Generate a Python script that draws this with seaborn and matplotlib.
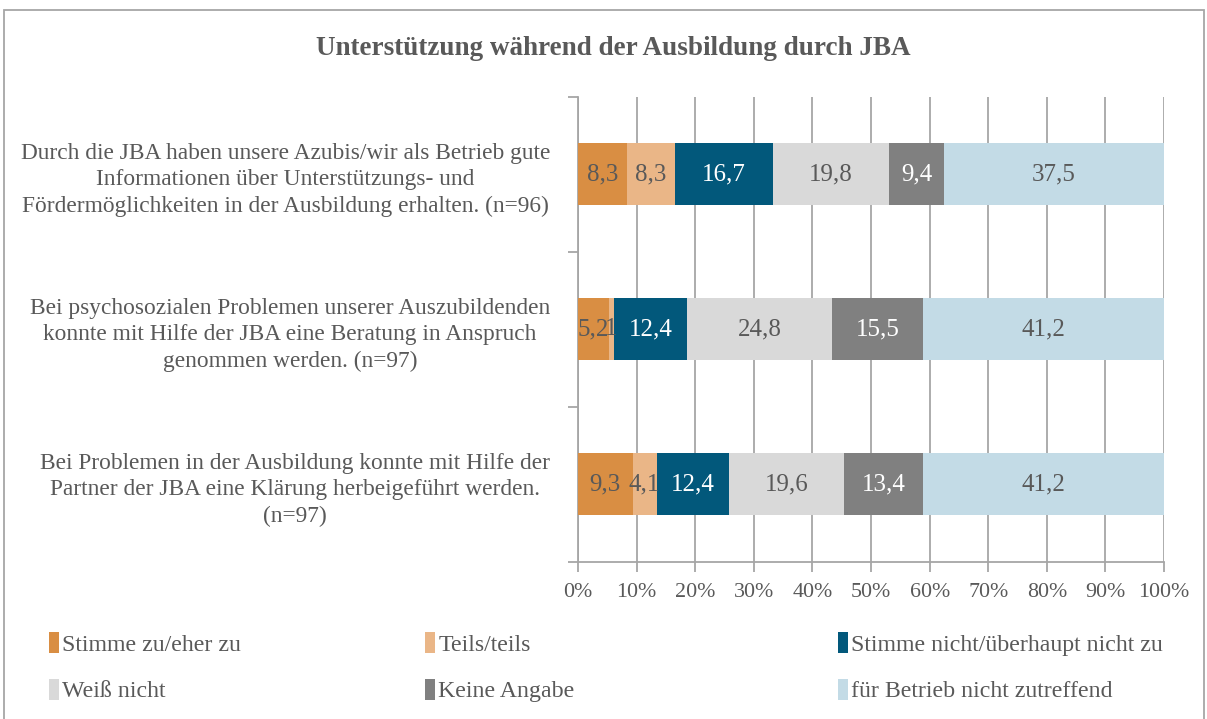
import numpy as np
import pandas as pd
import matplotlib.pyplot as plt
import seaborn as sns
from matplotlib.patches import Patch, Rectangle
from matplotlib.ticker import FixedLocator, PercentFormatter

# data
questions = [
    "Durch die JBA haben unsere Azubis/wir als Betrieb gute\nInformationen über Unterstützungs- und\nFördermöglichkeiten in der Ausbildung erhalten. (n=96)",
    "Bei psychosozialen Problemen unserer Auszubildenden\nkonnte mit Hilfe der JBA eine Beratung in Anspruch\ngenommen werden. (n=97)",
    "Bei Problemen in der Ausbildung konnte mit Hilfe der\nPartner der JBA eine Klärung herbeigeführt werden.\n(n=97)",
]
answers = [
    "Stimme zu/eher zu",
    "Teils/teils",
    "Stimme nicht/überhaupt nicht zu",
    "Weiß nicht",
    "Keine Angabe",
    "für Betrieb nicht zutreffend",
]
stimme_zu = [8.3, 5.2, 9.3]
teils = [8.3, 1.0, 4.1]
stimme_nicht = [16.7, 12.4, 12.4]
weiss_nicht = [19.8, 24.8, 19.6]
keine_angabe = [9.4, 15.5, 13.4]
nicht_zutreffend = [37.5, 41.2, 41.2]

colors = ["#D98E43", "#EAB687", "#02587B", "#D9D9D9", "#808080", "#C3DBE6"]
label_colors = ["#595959", "#595959", "white", "#595959", "white", "#595959"]
grey_text = "#595959"

df = pd.DataFrame(
    [stimme_zu, teils, stimme_nicht, weiss_nicht, keine_angabe, nicht_zutreffend],
    index=answers, columns=questions,
).T
cum = df.cumsum(axis=1)

sns.set_theme(style="white")
plt.rcParams["font.family"] = ["Liberation Serif", "DejaVu Serif"]

fig = plt.figure(figsize=(12.07, 7.19), dpi=100)
ax = fig.add_axes([0.4789, 0.2184, 0.4855, 0.6467])

# stacked bars: draw cumulative totals from the back to the front
for i in range(len(answers) - 1, -1, -1):
    sns.barplot(x=cum.iloc[:, i].values, y=questions, color=colors[i],
                orient="h", width=0.4, linewidth=0, saturation=1, ax=ax, zorder=3)

for r, q in enumerate(questions):
    for i, a in enumerate(answers):
        v = df.loc[q, a]
        start = cum.loc[q, a] - v
        txt = f"{v:g}".replace(".", ",")
        ax.text(start + v / 2, r, txt, ha="center", va="center",
                color=label_colors[i], fontsize=18, zorder=4)

ax.set_xlim(0, 100)
ax.set_ylim(2.5, -0.5)
ax.xaxis.set_major_locator(FixedLocator(np.arange(0, 101, 10)))
ax.xaxis.set_major_formatter(PercentFormatter(decimals=0))
ax.grid(axis="x", color="#A6A6A6", linewidth=1.3, zorder=0)
ax.set_axisbelow(True)
for s in ["top", "right"]:
    ax.spines[s].set_visible(False)
for s in ["left", "bottom"]:
    ax.spines[s].set_color("#A6A6A6")
    ax.spines[s].set_linewidth(1.3)
ax.yaxis.set_minor_locator(FixedLocator([-0.5, 0.5, 1.5, 2.5]))
ax.tick_params(axis="y", which="major", length=0, pad=20, labelsize=16.8,
               labelcolor=grey_text)
ax.tick_params(axis="y", which="minor", length=7, width=1.3, color="#A6A6A6", left=True)
ax.tick_params(axis="x", length=7, width=1.3, color="#A6A6A6", bottom=True,
               labelsize=15.8, labelcolor=grey_text, pad=8)
for lab in ax.get_yticklabels():
    lab.set_multialignment("center")
    lab.set_linespacing(1.35)
ax.set_xlabel("")
ax.set_ylabel("")

fig.text(0.508, 0.933, "Unterstützung während der Ausbildung durch JBA",
         ha="center", va="center", fontsize=19.5, fontweight="bold", color=grey_text)

# legend in three columns
handles = [Patch(facecolor=c, edgecolor="none") for c in colors]
for col, xpx in enumerate([49, 425, 838]):
    fig.legend(handles[col::3], answers[col::3], loc="upper left",
               bbox_to_anchor=(xpx / 1207, 1 - 632 / 719), frameon=False,
               fontsize=17.2, labelcolor=grey_text, handlelength=0.4,
               handleheight=1.0, handletextpad=0.15, labelspacing=0.95,
               borderaxespad=0, borderpad=0)

fig.add_artist(Rectangle((4 / 1207, -0.05), 1200 / 1207, 1.05 - 10 / 719,
                         transform=fig.transFigure, fill=False,
                         edgecolor="#A6A6A6", linewidth=1.3))

fig.savefig("out.png", dpi=100)
